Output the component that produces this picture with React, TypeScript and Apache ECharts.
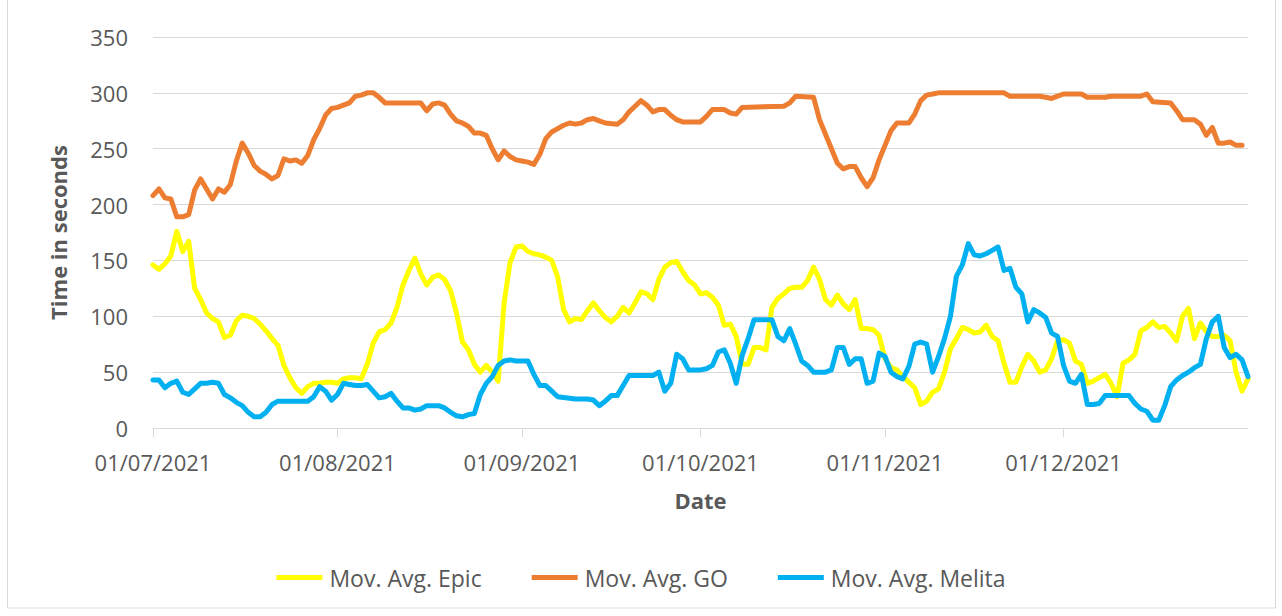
import React, { useEffect, useRef } from "react";
import * as echarts from "echarts";

const seriesNames = ["Mov. Avg. Epic", "Mov. Avg. GO", "Mov. Avg. Melita"];
const seriesColors = ["#FFFF00", "#ED7D31", "#00B0F0"];
const yTicks = [0, 50, 100, 150, 200, 250, 300, 350];

const epicData: [string, number][] = [
  ["2021-07-01",146],["2021-07-02",142],["2021-07-03",147],["2021-07-04",154],["2021-07-05",176],["2021-07-06",158],["2021-07-07",167],["2021-07-08",125],["2021-07-09",115],["2021-07-10",103],["2021-07-11",98],["2021-07-12",95],["2021-07-13",81],["2021-07-14",83],["2021-07-15",96],["2021-07-16",101],["2021-07-17",100],["2021-07-18",98],["2021-07-19",93],["2021-07-20",87],["2021-07-21",80],["2021-07-22",74],["2021-07-23",56],["2021-07-24",45],["2021-07-25",36],["2021-07-26",31],["2021-07-27",37],["2021-07-28",40],["2021-07-29",40],["2021-07-30",41],["2021-07-31",41],
  ["2021-08-01",40],["2021-08-02",44],["2021-08-03",45],["2021-08-04",45],["2021-08-05",44],["2021-08-06",57],["2021-08-07",76],["2021-08-08",86],["2021-08-09",88],["2021-08-10",94],["2021-08-11",108],["2021-08-12",128],["2021-08-13",141],["2021-08-14",152],["2021-08-15",138],["2021-08-16",128],["2021-08-17",135],["2021-08-18",137],["2021-08-19",133],["2021-08-20",123],["2021-08-21",103],["2021-08-22",77],["2021-08-23",70],["2021-08-24",57],["2021-08-25",50],["2021-08-26",56],["2021-08-27",50],["2021-08-28",42],["2021-08-29",112],["2021-08-30",148],["2021-08-31",162],
  ["2021-09-01",163],["2021-09-02",158],["2021-09-03",156],["2021-09-04",155],["2021-09-05",153],["2021-09-06",150],["2021-09-07",135],["2021-09-08",106],["2021-09-09",95],["2021-09-10",98],["2021-09-11",97],["2021-09-12",105],["2021-09-13",112],["2021-09-14",105],["2021-09-15",99],["2021-09-16",95],["2021-09-17",100],["2021-09-18",108],["2021-09-19",103],["2021-09-20",112],["2021-09-21",122],["2021-09-22",120],["2021-09-23",115],["2021-09-24",133],["2021-09-25",144],["2021-09-26",148],["2021-09-27",149],["2021-09-28",140],["2021-09-29",132],["2021-09-30",128],
  ["2021-10-01",120],["2021-10-02",121],["2021-10-03",117],["2021-10-04",110],["2021-10-05",92],["2021-10-06",93],["2021-10-07",82],["2021-10-08",57],["2021-10-09",57],["2021-10-10",72],["2021-10-11",72],["2021-10-12",70],["2021-10-13",108],["2021-10-14",116],["2021-10-15",120],["2021-10-16",125],["2021-10-17",126],["2021-10-18",126],["2021-10-19",132],["2021-10-20",144],["2021-10-21",133],["2021-10-22",115],["2021-10-23",110],["2021-10-24",119],["2021-10-25",111],["2021-10-26",106],["2021-10-27",115],["2021-10-28",89],["2021-10-29",89],["2021-10-30",88],["2021-10-31",83],
  ["2021-11-01",62],["2021-11-02",54],["2021-11-03",52],["2021-11-04",46],["2021-11-05",41],["2021-11-06",36],["2021-11-07",21],["2021-11-08",24],["2021-11-09",32],["2021-11-10",35],["2021-11-11",50],["2021-11-12",71],["2021-11-13",80],["2021-11-14",90],["2021-11-15",88],["2021-11-16",85],["2021-11-17",86],["2021-11-18",92],["2021-11-19",82],["2021-11-20",78],["2021-11-21",58],["2021-11-22",41],["2021-11-23",41],["2021-11-24",55],["2021-11-25",66],["2021-11-26",60],["2021-11-27",50],["2021-11-28",52],["2021-11-29",62],["2021-11-30",78],
  ["2021-12-01",79],["2021-12-02",76],["2021-12-03",60],["2021-12-04",57],["2021-12-05",40],["2021-12-06",42],["2021-12-07",45],["2021-12-08",48],["2021-12-09",40],["2021-12-10",28],["2021-12-11",58],["2021-12-12",61],["2021-12-13",66],["2021-12-14",87],["2021-12-15",90],["2021-12-16",95],["2021-12-17",90],["2021-12-18",91],["2021-12-19",85],["2021-12-20",78],["2021-12-21",100],["2021-12-22",107],["2021-12-23",80],["2021-12-24",94],["2021-12-25",86],["2021-12-26",82],["2021-12-27",82],["2021-12-28",83],["2021-12-29",78],["2021-12-30",50],["2021-12-31",33],["2022-01-01",44],
];

const goData: [string, number][] = [
  ["2021-07-01",208],["2021-07-02",214],["2021-07-03",206],["2021-07-04",205],["2021-07-05",189],["2021-07-06",189],["2021-07-07",191],["2021-07-08",213],["2021-07-09",223],["2021-07-10",214],["2021-07-11",205],["2021-07-12",214],["2021-07-13",211],["2021-07-14",218],["2021-07-15",239],["2021-07-16",255],["2021-07-17",246],["2021-07-18",235],["2021-07-19",230],["2021-07-20",227],["2021-07-21",223],["2021-07-22",226],["2021-07-23",241],["2021-07-24",239],["2021-07-25",240],["2021-07-26",237],["2021-07-27",244],["2021-07-28",258],["2021-07-29",268],["2021-07-30",280],["2021-07-31",286],
  ["2021-08-01",287],["2021-08-02",289],["2021-08-03",291],["2021-08-04",297],["2021-08-05",298],["2021-08-06",300],["2021-08-07",300],["2021-08-08",296],["2021-08-09",291],["2021-08-15",291],["2021-08-16",284],["2021-08-17",290],["2021-08-18",291],["2021-08-19",289],["2021-08-20",281],["2021-08-21",275],["2021-08-22",273],["2021-08-23",270],["2021-08-24",264],["2021-08-25",264],["2021-08-26",262],["2021-08-27",250],["2021-08-28",240],["2021-08-29",248],["2021-08-30",243],["2021-08-31",240],
  ["2021-09-01",239],["2021-09-02",238],["2021-09-03",236],["2021-09-04",245],["2021-09-05",259],["2021-09-06",265],["2021-09-07",268],["2021-09-08",271],["2021-09-09",273],["2021-09-10",272],["2021-09-11",273],["2021-09-12",276],["2021-09-13",277],["2021-09-14",275],["2021-09-15",273],["2021-09-17",272],["2021-09-18",276],["2021-09-19",283],["2021-09-20",288],["2021-09-21",293],["2021-09-22",289],["2021-09-23",283],["2021-09-24",285],["2021-09-25",285],["2021-09-26",280],["2021-09-27",276],["2021-09-28",274],
  ["2021-10-01",274],["2021-10-02",279],["2021-10-03",285],["2021-10-05",285],["2021-10-06",282],["2021-10-07",281],["2021-10-08",287],["2021-10-15",288],["2021-10-16",291],["2021-10-17",297],["2021-10-20",296],["2021-10-21",276],["2021-10-22",263],["2021-10-23",250],["2021-10-24",237],["2021-10-25",232],["2021-10-26",234],["2021-10-27",234],["2021-10-28",224],["2021-10-29",216],["2021-10-30",224],["2021-10-31",240],
  ["2021-11-01",253],["2021-11-02",266],["2021-11-03",273],["2021-11-05",273],["2021-11-06",281],["2021-11-07",293],["2021-11-08",298],["2021-11-09",299],["2021-11-10",300],["2021-11-21",300],["2021-11-22",297],["2021-11-27",297],["2021-11-28",296],["2021-11-29",295],["2021-11-30",297],
  ["2021-12-01",299],["2021-12-04",299],["2021-12-05",296],["2021-12-08",296],["2021-12-09",297],["2021-12-14",297],["2021-12-15",299],["2021-12-16",292],["2021-12-19",291],["2021-12-20",284],["2021-12-21",276],["2021-12-23",276],["2021-12-24",272],["2021-12-25",262],["2021-12-26",269],["2021-12-27",255],["2021-12-28",255],["2021-12-29",256],["2021-12-30",253],["2021-12-31",253],
];

const melitaData: [string, number][] = [
  ["2021-07-01",43],["2021-07-02",43],["2021-07-03",36],["2021-07-04",40],["2021-07-05",42],["2021-07-06",32],["2021-07-07",30],["2021-07-08",35],["2021-07-09",40],["2021-07-10",40],["2021-07-11",41],["2021-07-12",40],["2021-07-13",30],["2021-07-14",27],["2021-07-15",23],["2021-07-16",20],["2021-07-17",14],["2021-07-18",10],["2021-07-19",10],["2021-07-20",14],["2021-07-21",21],["2021-07-22",24],["2021-07-27",24],["2021-07-28",28],["2021-07-29",37],["2021-07-30",33],["2021-07-31",25],
  ["2021-08-01",30],["2021-08-02",40],["2021-08-03",39],["2021-08-04",38],["2021-08-05",38],["2021-08-06",39],["2021-08-07",33],["2021-08-08",27],["2021-08-09",28],["2021-08-10",31],["2021-08-11",24],["2021-08-12",18],["2021-08-13",18],["2021-08-14",16],["2021-08-15",17],["2021-08-16",20],["2021-08-18",20],["2021-08-19",18],["2021-08-20",14],["2021-08-21",11],["2021-08-22",10],["2021-08-23",12],["2021-08-24",13],["2021-08-25",30],["2021-08-26",40],["2021-08-27",46],["2021-08-28",56],["2021-08-29",60],["2021-08-30",61],["2021-08-31",60],
  ["2021-09-01",60],["2021-09-02",60],["2021-09-03",48],["2021-09-04",38],["2021-09-05",38],["2021-09-06",33],["2021-09-07",28],["2021-09-10",26],["2021-09-12",26],["2021-09-13",25],["2021-09-14",20],["2021-09-15",24],["2021-09-16",29],["2021-09-17",29],["2021-09-18",38],["2021-09-19",47],["2021-09-23",47],["2021-09-24",50],["2021-09-25",33],["2021-09-26",40],["2021-09-27",66],["2021-09-28",62],["2021-09-29",52],["2021-09-30",52],
  ["2021-10-01",52],["2021-10-02",53],["2021-10-03",56],["2021-10-04",68],["2021-10-05",70],["2021-10-06",58],["2021-10-07",40],["2021-10-08",65],["2021-10-09",80],["2021-10-10",97],["2021-10-13",97],["2021-10-14",82],["2021-10-15",78],["2021-10-16",89],["2021-10-17",75],["2021-10-18",60],["2021-10-19",56],["2021-10-20",50],["2021-10-22",50],["2021-10-23",52],["2021-10-24",72],["2021-10-25",72],["2021-10-26",57],["2021-10-27",62],["2021-10-28",62],["2021-10-29",40],["2021-10-30",42],["2021-10-31",67],
  ["2021-11-01",64],["2021-11-02",50],["2021-11-03",46],["2021-11-04",44],["2021-11-05",55],["2021-11-06",75],["2021-11-07",77],["2021-11-08",75],["2021-11-09",50],["2021-11-10",64],["2021-11-11",80],["2021-11-12",100],["2021-11-13",136],["2021-11-14",146],["2021-11-15",165],["2021-11-16",155],["2021-11-17",154],["2021-11-18",156],["2021-11-19",159],["2021-11-20",162],["2021-11-21",141],["2021-11-22",143],["2021-11-23",126],["2021-11-24",120],["2021-11-25",95],["2021-11-26",106],["2021-11-27",103],["2021-11-28",99],["2021-11-29",85],["2021-11-30",82],
  ["2021-12-01",56],["2021-12-02",42],["2021-12-03",40],["2021-12-04",48],["2021-12-05",21],["2021-12-06",21],["2021-12-07",22],["2021-12-08",29],["2021-12-12",29],["2021-12-13",22],["2021-12-14",17],["2021-12-15",15],["2021-12-16",7],["2021-12-17",7],["2021-12-18",20],["2021-12-19",37],["2021-12-20",43],["2021-12-21",47],["2021-12-22",50],["2021-12-23",54],["2021-12-24",57],["2021-12-25",80],["2021-12-26",95],["2021-12-27",100],["2021-12-28",72],["2021-12-29",63],["2021-12-30",66],["2021-12-31",61],["2022-01-01",46],
];

const FONT = "'Open Sans', 'Noto Sans', sans-serif";
const TEXT = "#595959";

function fmtDate(v: number): string {
  const d = new Date(v);
  const dd = String(d.getDate()).padStart(2, "0");
  const mm = String(d.getMonth() + 1).padStart(2, "0");
  return `${dd}/${mm}/${d.getFullYear()}`;
}

export default function App() {
  const ref = useRef<HTMLDivElement>(null);
  useEffect(() => {
    document.body.style.margin = "0";
    const chart = echarts.init(ref.current!, null, { renderer: "svg" });
    const allData = [epicData, goData, melitaData];
    chart.setOption({
      animation: false,
      backgroundColor: "#ffffff",
      textStyle: { fontFamily: FONT },
      grid: { left: 153, right: 34, top: 37, bottom: 188 },
      graphic: [
        {
          type: "rect",
          shape: { x: 7.5, y: -2, width: 1268, height: 610 },
          style: { fill: "none", stroke: "#D9D9D9", lineWidth: 1 },
          silent: true,
        },
      ],
      legend: {
        bottom: 22,
        left: "center",
        icon: "rect",
        itemWidth: 46,
        itemHeight: 5,
        itemGap: 50,
        textStyle: { color: TEXT, fontSize: 23, fontFamily: FONT, padding: [0, 0, 0, 2] },
        data: seriesNames,
      },
      xAxis: {
        type: "time",
        min: "2021-07-01",
        max: "2022-01-01",
        minInterval: 28 * 86400000,
        maxInterval: 31 * 86400000,
        name: "Date",
        nameLocation: "middle",
        nameGap: 61,
        nameTextStyle: { color: TEXT, fontSize: 22, fontWeight: "bold", fontFamily: FONT },
        axisLine: { show: true, lineStyle: { color: "#D9D9D9", width: 1 } },
        axisTick: { show: true, length: 9, lineStyle: { color: "#D9D9D9" } },
        splitLine: { show: false },
        axisLabel: {
          color: TEXT,
          fontSize: 22,
          fontFamily: FONT,
          margin: 23,
          showMaxLabel: false,
          formatter: (v: number) => fmtDate(v),
        },
      },
      yAxis: {
        type: "value",
        min: 0,
        max: 350,
        interval: 50,
        name: "Time in seconds",
        nameLocation: "middle",
        nameRotate: 90,
        nameGap: 84,
        nameTextStyle: { color: TEXT, fontSize: 22, fontWeight: "bold", fontFamily: FONT },
        axisLine: { show: false },
        axisTick: { show: false },
        splitLine: { lineStyle: { color: "#D9D9D9", width: 1 } },
        axisLabel: {
          color: TEXT,
          fontSize: 22,
          fontFamily: FONT,
          margin: 25,
          formatter: (v: number) => (yTicks.includes(v) ? String(v) : ""),
        },
      },
      series: seriesNames.map((name, i) => ({
        name,
        type: "line",
        data: allData[i],
        showSymbol: false,
        symbol: "none",
        color: seriesColors[i],
        lineStyle: { color: seriesColors[i], width: 5, cap: "round", join: "round" },
        z: 2 + i,
      })),
    });
    return () => chart.dispose();
  }, []);
  return <div ref={ref} style={{ width: 1282, height: 616 }} />;
}
